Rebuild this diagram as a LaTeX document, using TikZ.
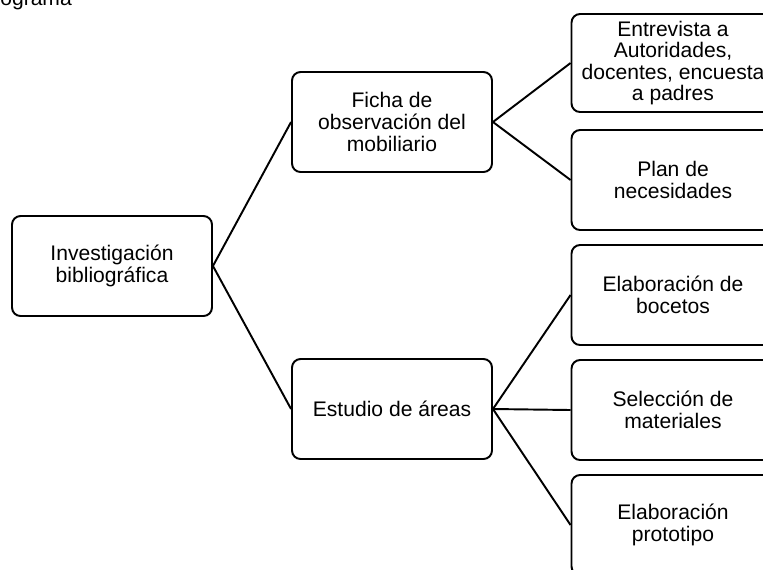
\documentclass[tikz,border=0pt]{standalone}
\usepackage{fontspec}
\setmainfont{Liberation Sans}
\usepackage{tikz}
\usetikzlibrary{positioning,shapes}

\begin{document}
\begin{tikzpicture}[x=0.02cm, y=-0.02cm,
      caja/.style={draw, line width=1.1pt, rounded corners=0.17cm,
                   minimum width=4cm, minimum height=2cm, align=center,
                   font=\fontsize{12}{12.3}\selectfont},
      linea/.style={line width=1.1pt}]
      \useasboundingbox (0, 0) rectangle (763, 569);
      \draw (78, 5) node (titulo) [anchor=base east, font=\fontsize{12}{14}\selectfont] {ograma};
      \draw (112, 266) node (inv) [caja] {Investigación\\bibliográfica}
            (392, 122) node (ficha) [caja] {Ficha de\\observación del\\mobiliario}
            (392, 409) node (estudio) [caja] {Estudio de áreas};
      \draw (673, 63) node (entrevista) [caja, minimum width=4.06cm, minimum height=1.96cm] {Entrevista a\\Autoridades,\\docentes, encuesta\\a padres}
            (673, 180) node (plan) [caja, minimum width=4.06cm] {Plan de\\necesidades}
            (673, 295) node (bocetos) [caja, minimum width=4.06cm] {Elaboración de\\bocetos}
            (673, 410) node (materiales) [caja, minimum width=4.06cm] {Selección de\\materiales}
            (673, 525) node (prototipo) [caja, minimum width=4.06cm] {Elaboración\\prototipo};
      \draw[linea] (inv.east) edge (ficha.west)
                   (inv.east) edge (estudio.west)
                   (ficha.east) edge (entrevista.west)
                   (ficha.east) edge (plan.west)
                   (estudio.east) edge (bocetos.west)
                   (estudio.east) edge (materiales.west)
                   (estudio.east) edge (prototipo.west);
\end{tikzpicture}
\end{document}
